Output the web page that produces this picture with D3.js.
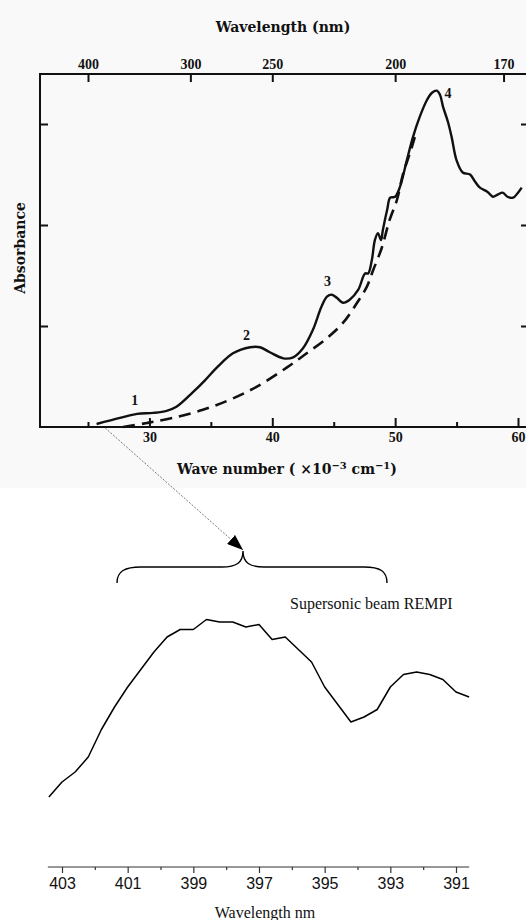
<!DOCTYPE html>
<html>
<head>
<meta charset="utf-8">
<script src="https://cdn.jsdelivr.net/npm/d3@7"></script>
<style>
  html, body { margin: 0; padding: 0; background: #fff; }
  svg { display: block; }
</style>
</head>
<body>
<svg id="chart" width="526" height="920"></svg>
<script>
// ---------- Data: absorption spectrum (top) ----------
const solidWavenumber = [25.7, 27.6, 29.0, 30.3, 31.4, 32.2, 33.5, 34.5, 35.5, 36.8, 38.2, 39.0, 39.8, 40.9, 41.7, 42.5, 43.3, 44.0, 44.45, 44.85, 45.25, 45.75, 46.3, 47.0, 47.55, 47.8, 48.1, 48.35, 48.6, 48.85, 49.0, 49.35, 49.6, 50.0, 50.4, 50.95, 51.45, 52.0, 52.6, 53.0, 53.4, 53.65, 53.9, 54.3, 54.6, 55.0, 55.5, 56.1, 56.5, 56.9, 57.5, 57.95, 58.35, 58.75, 59.15, 59.6, 60.0, 60.3];
const solidAbsorbance = [0.03, 0.09, 0.13, 0.14, 0.16, 0.20, 0.34, 0.46, 0.59, 0.73, 0.79, 0.79, 0.74, 0.68, 0.69, 0.78, 0.96, 1.19, 1.29, 1.31, 1.28, 1.23, 1.26, 1.36, 1.52, 1.52, 1.65, 1.85, 1.92, 1.85, 1.95, 2.15, 2.27, 2.28, 2.38, 2.64, 2.87, 3.07, 3.24, 3.31, 3.33, 3.29, 3.17, 3.02, 2.87, 2.64, 2.52, 2.50, 2.43, 2.37, 2.33, 2.28, 2.30, 2.32, 2.28, 2.27, 2.32, 2.37];
const dashWavenumber = [27.85, 29.8, 31.9, 34.35, 36.55, 38.75, 41.2, 42.8, 44.45, 45.75, 46.9, 47.7, 48.2, 48.9, 49.55, 50.15, 50.65, 51.2, 51.6];
const dashAbsorbance = [0.0, 0.04, 0.09, 0.17, 0.27, 0.40, 0.59, 0.73, 0.88, 1.03, 1.23, 1.39, 1.55, 1.77, 2.05, 2.25, 2.51, 2.71, 2.87];
const bandLabels = ["1", "2", "3", "4"];
const bandLabelWavenumber = [28.8, 37.9, 44.5, 54.3];
const bandLabelAbsorbance = [0.27, 0.91, 1.44, 3.31];

const wnMajorTicks = [30, 40, 50, 60];
const wnMinorTicks = [25, 35, 45, 55];
const topWavelengthTicks = [400, 300, 250, 200, 170];
const absTicks = [1, 2, 3];

// ---------- Data: supersonic beam REMPI (bottom) ----------
const rempiWavelength = [403.4, 403.0, 402.6, 402.2, 401.8, 401.4, 401.0, 400.6, 400.2, 399.8, 399.4, 399.0, 398.6, 398.2, 397.8, 397.4, 397.0, 396.6, 396.2, 395.8, 395.4, 395.0, 394.6, 394.2, 393.8, 393.4, 393.0, 392.6, 392.2, 391.8, 391.4, 391.0, 390.6];
const rempiIntensity = [28, 34, 38, 44, 55, 64, 72, 79, 86, 92, 95, 95, 99, 98, 98, 96, 97, 91, 92, 87, 82, 72, 65, 58, 60, 63, 72, 77, 78, 77, 75, 70, 68];
const rempiMajorTicks = [403, 401, 399, 397, 395, 393, 391];
const rempiMinorTicks = [402, 400, 398, 396, 394, 392];

// ---------- Layout ----------
const svg = d3.select("#chart");
const W = 526, H = 920;
const box = { left: 40, right: 527, top: 74, bottom: 427 };
const serifB = "'DejaVu Serif', serif";
const timesB = "'Liberation Serif', 'Times New Roman', serif";

svg.append("rect").attr("x", 0).attr("y", 0).attr("width", W).attr("height", 488).attr("fill", "#f9f9f9");

const xW = d3.scaleLinear().domain([25, 60]).range([88, 518]);
const yA = d3.scaleLinear().domain([0, 3]).range([box.bottom, 124]);

// Frame
svg.append("path")
  .attr("d", `M${box.right},${box.top} L${box.left},${box.top} L${box.left},${box.bottom} L${box.right},${box.bottom}`)
  .attr("stroke", "#111").attr("stroke-width", 2).attr("fill", "none");

// Bottom axis (wave number)
const gB1 = svg.append("g").attr("transform", `translate(0,${box.bottom})`)
  .call(d3.axisBottom(xW).tickValues(wnMajorTicks).tickSize(-9).tickPadding(5).tickFormat(d3.format("d")));
const gB2 = svg.append("g").attr("transform", `translate(0,${box.bottom})`)
  .call(d3.axisBottom(xW).tickValues(wnMinorTicks).tickSize(-5).tickFormat(""));
// Top axis (wavelength nm)
const gT = svg.append("g").attr("transform", `translate(0,${box.top})`)
  .call(d3.axisTop(xW).tickValues(topWavelengthTicks.map(l => 1e4 / l)).tickSize(-8).tickPadding(5)
    .tickFormat((d, i) => topWavelengthTicks[i]));
// Left / right absorbance ticks
const gL = svg.append("g").attr("transform", `translate(${box.left},0)`)
  .call(d3.axisLeft(yA).tickValues(absTicks).tickSize(-8).tickFormat(""));
const gR = svg.append("g").attr("transform", `translate(${W},0)`)
  .call(d3.axisRight(yA).tickValues(absTicks).tickSize(-5).tickFormat(""));

[gB1, gB2, gT, gL, gR].forEach(g => {
  g.select(".domain").remove();
  g.selectAll(".tick line").attr("stroke", "#111").attr("stroke-width", 2);
  g.selectAll(".tick text").attr("font-family", timesB).attr("font-weight", "bold")
    .attr("font-size", 14).attr("fill", "#111");
});

// Curves
const solidData = solidWavenumber.map((w, i) => [w, solidAbsorbance[i]]);
const dashData = dashWavenumber.map((w, i) => [w, dashAbsorbance[i]]);
const lineTop = d3.line().x(d => xW(d[0])).y(d => yA(d[1])).curve(d3.curveCatmullRom.alpha(0.5));

svg.append("path").datum(dashData).attr("d", lineTop)
  .attr("fill", "none").attr("stroke", "#111").attr("stroke-width", 2.6).attr("stroke-dasharray", "12,7");
svg.append("path").datum(solidData).attr("d", lineTop)
  .attr("fill", "none").attr("stroke", "#111").attr("stroke-width", 2.4).attr("stroke-linejoin", "round");

// Band labels
svg.append("g").selectAll("text").data(bandLabels).join("text")
  .attr("x", (d, i) => xW(bandLabelWavenumber[i]))
  .attr("y", (d, i) => yA(bandLabelAbsorbance[i]))
  .attr("dy", "0.35em").attr("text-anchor", "middle")
  .attr("font-family", timesB).attr("font-weight", "bold").attr("font-size", 14).attr("fill", "#111")
  .text(d => d);

// Axis titles
svg.append("text").attr("x", 283).attr("y", 32).attr("text-anchor", "middle")
  .attr("font-family", serifB).attr("font-weight", "bold").attr("font-size", 14).attr("fill", "#111")
  .text("Wavelength (nm)");

svg.append("text").attr("transform", "translate(25,248) rotate(-90)").attr("text-anchor", "middle")
  .attr("font-family", serifB).attr("font-weight", "bold").attr("font-size", 14).attr("fill", "#111")
  .text("Absorbance");

const xt = svg.append("text").attr("x", 287).attr("y", 474).attr("text-anchor", "middle")
  .attr("font-family", serifB).attr("font-weight", "bold").attr("font-size", 14).attr("fill", "#111");
xt.append("tspan").text("Wave  number  ( ×10");
xt.append("tspan").attr("dy", -5).attr("font-size", 10).text("−3");
xt.append("tspan").attr("dy", 5).text(" cm");
xt.append("tspan").attr("dy", -5).attr("font-size", 10).text("−1");
xt.append("tspan").attr("dy", 5).text(")");

// ---------- Bottom chart ----------
const xL = d3.scaleLinear().domain([403, 391]).range([62, 456]);
const yI = d3.scaleLinear().domain([0, 100]).range([867, 617]);
const axisY = 867;

// Pointer arrow from top spectrum to brace
const defs = svg.append("defs");
defs.append("marker").attr("id", "arrow").attr("viewBox", "0 0 16 12")
  .attr("refX", 16).attr("refY", 6).attr("markerWidth", 16).attr("markerHeight", 12)
  .attr("markerUnits", "userSpaceOnUse").attr("orient", "auto")
  .append("path").attr("d", "M0,0 L16,6 L0,12 Z").attr("fill", "#000");

svg.append("line")
  .attr("x1", xW(26.4)).attr("y1", yA(0) + 1)
  .attr("x2", 243).attr("y2", 550)
  .attr("stroke", "#555").attr("stroke-width", 0.8).attr("stroke-dasharray", "2,1.5")
  .attr("marker-end", "url(#arrow)");

// Brace
svg.append("path")
  .attr("d", "M117,583 C117,571 125,567 141,567 L222,567 C236,567 243,563 243,551 C243,563 250,567 264,567 L364,567 C380,567 387,571 387,583")
  .attr("fill", "none").attr("stroke", "#000").attr("stroke-width", 1.4);

svg.append("text").attr("x", 290).attr("y", 609)
  .attr("font-family", timesB).attr("font-size", 16).attr("fill", "#111")
  .text("Supersonic beam REMPI");

const rempiData = rempiWavelength.map((w, i) => [w, rempiIntensity[i]]);
svg.append("path").datum(rempiData)
  .attr("d", d3.line().x(d => xL(d[0])).y(d => yI(d[1])))
  .attr("fill", "none").attr("stroke", "#000").attr("stroke-width", 1.5).attr("stroke-linejoin", "round");

// Bottom axis
svg.append("line")
  .attr("x1", xL(d3.max(rempiWavelength)) - 1).attr("x2", xL(d3.min(rempiWavelength)))
  .attr("y1", axisY).attr("y2", axisY).attr("stroke", "#333").attr("stroke-width", 1.2);
const gM = svg.append("g").attr("transform", `translate(0,${axisY})`)
  .call(d3.axisBottom(xL).tickValues(rempiMajorTicks).tickSize(6).tickPadding(5).tickFormat(d3.format("d")));
const gm = svg.append("g").attr("transform", `translate(0,${axisY})`)
  .call(d3.axisBottom(xL).tickValues(rempiMinorTicks).tickSize(3).tickFormat(""));
[gM, gm].forEach(g => {
  g.select(".domain").remove();
  g.selectAll(".tick line").attr("stroke", "#333").attr("stroke-width", 1.2);
  g.selectAll(".tick text").attr("font-family", "'Liberation Sans', Arial, sans-serif")
    .attr("font-size", 16).attr("fill", "#111");
});

svg.append("text").attr("x", 265).attr("y", 918).attr("text-anchor", "middle")
  .attr("font-family", timesB).attr("font-size", 16).attr("fill", "#111")
  .text("Wavelength nm");
</script>
</body>
</html>
